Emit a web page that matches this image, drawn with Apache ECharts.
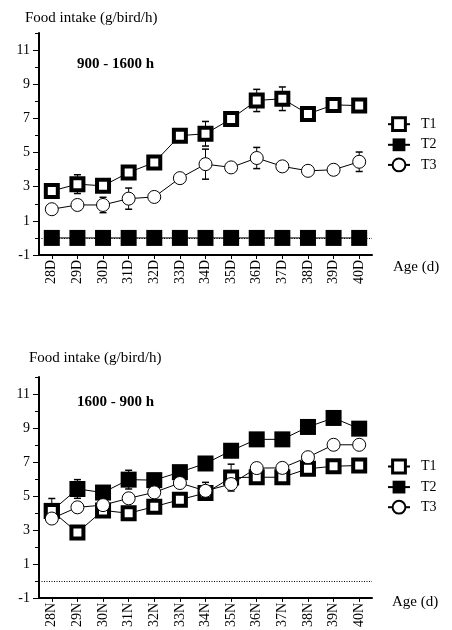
<!DOCTYPE html>
<html>
<head>
<meta charset="utf-8">
<script src="https://cdn.jsdelivr.net/npm/echarts@6/dist/echarts.min.js"></script>
<style>
html,body{margin:0;padding:0;background:#fff;}
#chart{width:452px;height:630px;}
</style>
</head>
<body>
<div id="chart"></div>
<script>
// ---- data ----
const categoriesDay = ['28D','29D','30D','31D','32D','33D','34D','35D','36D','37D','38D','39D','40D'];
const categoriesNight = ['28N','29N','30N','31N','32N','33N','34N','35N','36N','37N','38N','39N','40N'];

const t1Day = [2.75, 3.15, 3.05, 3.83, 4.42, 5.99, 6.1, 6.97, 8.05, 8.15, 7.26, 7.79, 7.75];
const t2Day = [0, 0, 0, 0, 0, 0, 0, 0, 0, 0, 0, 0, 0];
const t3Day = [1.68, 1.93, 1.93, 2.3, 2.4, 3.5, 4.32, 4.13, 4.68, 4.19, 3.93, 3.99, 4.46];
const t1DayErr = [0, 0.55, 0, 0, 0, 0, 0.72, 0, 0.65, 0.69, 0, 0, 0];
const t2DayErr = [0, 0, 0, 0, 0, 0, 0, 0, 0, 0, 0, 0, 0];
const t3DayErr = [0, 0, 0.45, 0.62, 0, 0, 0.88, 0, 0.62, 0, 0, 0, 0.57];

const t1Night = [4.12, 2.85, 4.15, 3.98, 4.37, 4.78, 5.17, 6.08, 6.1, 6.1, 6.6, 6.75, 6.79];
const t2Night = [4.12, 5.41, 5.2, 5.96, 5.93, 6.4, 6.91, 7.66, 8.33, 8.33, 9.06, 9.59, 8.96];
const t3Night = [3.67, 4.33, 4.46, 4.86, 5.21, 5.76, 5.3, 5.7, 6.64, 6.65, 7.28, 8.01, 8.01];
const t1NightErr = [0.73, 0, 0, 0, 0, 0, 0, 0.79, 0, 0, 0, 0, 0];
const t2NightErr = [0, 0.55, 0, 0.55, 0, 0, 0, 0, 0, 0, 0, 0, 0];
const t3NightErr = [0, 0, 0, 0, 0, 0, 0.5, 0, 0, 0, 0, 0, 0];

const yMajorTicks = [-1, 1, 3, 5, 7, 9, 11];
const yMinorTicks = [0, 2, 4, 6, 8, 10, 12];
const seriesNames = ['T1', 'T2', 'T3'];

// ---- styling ----
const FONT = "'Liberation Serif', 'Times New Roman', serif";
const BLACK = '#000';

const chart = echarts.init(document.getElementById('chart'), null, {renderer: 'canvas'});

function errData(vals, errs) {
  const out = [];
  errs.forEach((e, i) => { if (e > 0) out.push([i, vals[i], e]); });
  return out;
}
function errRender(params, api) {
  const x = api.value(0), v = api.value(1), e = api.value(2);
  const hi = api.coord([x, v + e]);
  const lo = api.coord([x, v - e]);
  const w = 3.5;
  return {
    type: 'group',
    children: [
      {type: 'line', shape: {x1: hi[0], y1: hi[1], x2: lo[0], y2: lo[1]}, style: {stroke: BLACK, lineWidth: 1}},
      {type: 'line', shape: {x1: hi[0] - w, y1: hi[1], x2: hi[0] + w, y2: hi[1]}, style: {stroke: BLACK, lineWidth: 1.5}},
      {type: 'line', shape: {x1: lo[0] - w, y1: lo[1], x2: lo[0] + w, y2: lo[1]}, style: {stroke: BLACK, lineWidth: 1.5}}
    ]
  };
}

function xAxisFor(gridIndex, cats) {
  return {
    type: 'category', gridIndex: gridIndex, data: cats, boundaryGap: true,
    axisLine: {show: true, onZero: false, lineStyle: {color: BLACK, width: 2}},
    axisTick: {show: true, alignWithLabel: true, length: 4, lineStyle: {color: BLACK, width: 1}},
    axisLabel: {rotate: 90, fontFamily: FONT, fontSize: 14, color: BLACK, margin: 5},
    splitLine: {show: false}
  };
}
function yAxesFor(gridIndex) {
  return [
    {
      type: 'value', gridIndex: gridIndex, min: -1, max: 12,
      axisLine: {show: true, lineStyle: {color: BLACK, width: 2}},
      axisTick: {show: true, length: 6, customValues: yMajorTicks, lineStyle: {color: BLACK, width: 1}},
      axisLabel: {customValues: yMajorTicks, fontFamily: FONT, fontSize: 14, color: BLACK, margin: 9},
      splitLine: {show: false}
    },
    {
      type: 'value', gridIndex: gridIndex, min: -1, max: 12, position: 'left',
      axisLine: {show: false},
      axisTick: {show: true, length: 4, customValues: yMinorTicks, lineStyle: {color: BLACK, width: 1}},
      axisLabel: {show: false},
      splitLine: {show: false}
    }
  ];
}

function seriesFor(xi, yi, t1, t2, t3, e1, e2, e3) {
  return [
    {
      type: 'custom', xAxisIndex: xi, yAxisIndex: yi, z: 1,
      renderItem: errRender, data: errData(t1, e1).concat(errData(t2, e2), errData(t3, e3)),
      encode: {x: 0, y: 1}, silent: true
    },
    {
      name: seriesNames[1], type: 'line', xAxisIndex: xi, yAxisIndex: yi, z: 2, data: t2,
      symbol: 'rect', symbolSize: 16,
      itemStyle: {color: BLACK},
      lineStyle: {color: BLACK, width: 1},
      markLine: {
        silent: true, symbol: 'none', label: {show: false},
        lineStyle: {color: BLACK, type: [1, 1.5], width: 1},
        data: [{yAxis: 0}]
      }
    },
    {
      name: seriesNames[0], type: 'line', xAxisIndex: xi, yAxisIndex: yi, z: 3, data: t1,
      symbol: 'rect', symbolSize: 12,
      itemStyle: {color: '#fff', borderColor: BLACK, borderWidth: 4},
      lineStyle: {color: BLACK, width: 1}
    },
    {
      name: seriesNames[2], type: 'line', xAxisIndex: xi, yAxisIndex: yi, z: 4, data: t3,
      symbol: 'circle', symbolSize: 13,
      itemStyle: {color: '#fff', borderColor: BLACK, borderWidth: 1},
      lineStyle: {color: BLACK, width: 1}
    }
  ];
}

function legendAt(top) {
  return {
    orient: 'vertical', left: 387, top: top, padding: 0,
    itemWidth: 22, itemHeight: 16, itemGap: 5.7,
    data: [
      {name: 'T1', itemStyle: {borderWidth: 3}},
      {name: 'T2'},
      {name: 'T3'}
    ],
    textStyle: {fontFamily: FONT, fontSize: 14, color: BLACK, padding: [0, 0, 0, 6]},
    selectedMode: false
  };
}

function txt(text, x, y, size, bold) {
  return {
    type: 'text', left: x, top: y - size * 0.6,
    style: {text: text, font: (bold ? 'bold ' : '') + size + 'px ' + FONT, fill: BLACK}
  };
}

const option = {
  animation: false,
  backgroundColor: '#fff',
  grid: [
    {left: 39, right: 80, top: 33, height: 222},
    {left: 39, right: 80, top: 377, height: 221.5}
  ],
  xAxis: [xAxisFor(0, categoriesDay), xAxisFor(1, categoriesNight)],
  yAxis: yAxesFor(0).concat(yAxesFor(1)),
  legend: [legendAt(116.3), legendAt(458.6)],
  series: seriesFor(0, 0, t1Day, t2Day, t3Day, t1DayErr, t2DayErr, t3DayErr)
    .concat(seriesFor(1, 2, t1Night, t2Night, t3Night, t1NightErr, t2NightErr, t3NightErr)),
  graphic: [
    txt('Food intake (g/bird/h)', 25, 20, 15, false),
    txt('900 - 1600 h', 77, 66, 15, true),
    txt('Age (d)', 393, 269, 15, false),
    txt('Food intake (g/bird/h)', 29, 360, 15, false),
    txt('1600 - 900 h', 77, 404, 15, true),
    txt('Age (d)', 392, 604, 15, false)
  ]
};
chart.setOption(option);
</script>
</body>
</html>
